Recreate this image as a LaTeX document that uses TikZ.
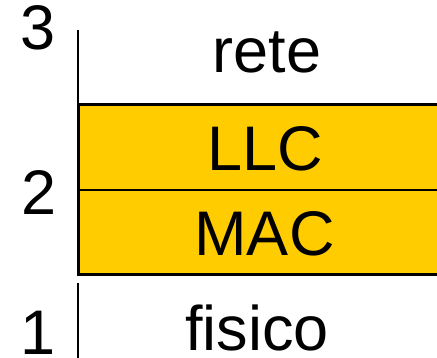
\documentclass[tikz,border=0pt]{standalone}
\usepackage{fontspec}
\setmainfont{Liberation Sans}
\definecolor{layeryellow}{HTML}{FFCC00}
\begin{document}
\begin{tikzpicture}[x=1pt,y=-1pt,
  lbl/.style={anchor=base,inner sep=0pt,font=\fontsize{63}{63}\selectfont},
  axisline/.style={line width=2pt,black},
  layerbox/.style={fill=layeryellow,draw=black,line width=3pt}]
  \useasboundingbox (0,0) rectangle (437,358);
  % clip keeps the band and the bottom rule inside the page
  \clip (0,0) rectangle (437,358);
  % sub-layers of level 2
  \path[layerbox] (78,105) rectangle (445,275);
  \draw[line width=2pt] (78,190) -- (445,190);
  % vertical level rules
  \coordinate (topA) at (77.5,30);
  \coordinate (topB) at (77.5,105);
  \coordinate (botA) at (77.5,283);
  \coordinate (botB) at (77.5,362);
  \draw[axisline] (topA) -- (topB);
  \draw[axisline] (botA) -- (botB);
  % level numbers
  \node[lbl] (n3) at (38,49.5) {3};
  \node[lbl] (n2) at (39,215) {2};
  \node[lbl] (n1) at (38,355) {1};
  % layer names
  \node[lbl] (rete) at (267,73) {rete};
  \node[lbl] (llc) at (265,171) {LLC};
  \node[lbl] (mac) at (264.5,256) {MAC};
  \node[lbl] (fisico) at (257,351) {fisico};
\end{tikzpicture}
\end{document}
